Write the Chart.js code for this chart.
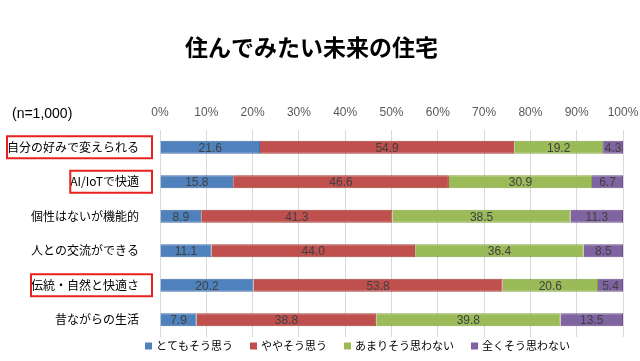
<!DOCTYPE html>
<html>
<head>
<meta charset="utf-8">
<script src="https://cdn.jsdelivr.net/npm/chart.js@4"></script>
<style>
  html, body { margin: 0; padding: 0; background: #fff; }
  #wrap { width: 640px; height: 361px; }
</style>
</head>
<body>
<div id="wrap"><canvas id="chart"></canvas></div>
<script>
const categories = ["自分の好みで変えられる", "AI/IoTで快適", "個性はないが機能的", "人との交流ができる", "伝統・自然と快適さ", "昔ながらの生活"];
const seriesNames = ["とてもそう思う", "ややそう思う", "あまりそう思わない", "全くそう思わない"];
const veryMuch = [21.6, 15.8, 8.9, 11.1, 20.2, 7.9];
const somewhat = [54.9, 46.6, 41.3, 44.0, 53.8, 38.8];
const notMuch = [19.2, 30.9, 38.5, 36.4, 20.6, 39.8];
const notAtAll = [4.3, 6.7, 11.3, 8.5, 5.4, 13.5];
const highlighted = [0, 1, 4];

const colors = ["#4F81BD", "#C0504D", "#9BBB59", "#8064A2"];
const borders = ["#3F6EA6", "#A63F3C", "#86A446", "#6A5089"];
const jp = '"Noto Sans CJK JP", sans-serif';
const num = '"Liberation Sans", sans-serif';

const valueLabels = {
    id: "valueLabels",
    afterDatasetsDraw(chart) {
        const c = chart.ctx;
        c.save();
        c.font = "12px " + num;
        c.fillStyle = "#404040";
        c.textAlign = "center";
        c.textBaseline = "middle";
        chart.data.datasets.forEach((ds, i) => {
            chart.getDatasetMeta(i).data.forEach((bar, j) => {
                const x = (bar.x + bar.base) / 2;
                c.fillText(ds.data[j].toFixed(1), x, bar.y + 1);
            });
        });
        c.restore();
    }
};

const extras = {
    id: "extras",
    afterDraw(chart) {
        const c = chart.ctx;
        const yScale = chart.scales.y;
        c.save();
        // n label
        c.font = "14px " + num;
        c.fillStyle = "#000";
        c.textBaseline = "middle";
        c.textAlign = "left";
        c.fillText("(n=1,000)", 12, 114);
        // red boxes around highlighted labels
        c.font = "12px " + jp;
        c.strokeStyle = "#E8201E";
        c.lineWidth = 2;
        highlighted.forEach(i => {
            const y = yScale.getPixelForTick(i);
            const w = c.measureText(categories[i]).width;
            c.strokeRect(147 - w - 8, y - 11, w + 13, 22);
        });
        // legend
        c.font = "11px " + jp;
        c.textAlign = "left";
        let x = 145;
        const ly = 346;
        seriesNames.forEach((name, i) => {
            c.fillStyle = colors[i];
            c.fillRect(x, ly - 3.5, 7, 7);
            c.fillStyle = "#000";
            c.fillText(name, x + 11, ly);
            x += 11 + c.measureText(name).width + 17;
        });
        c.restore();
    }
};

const datasetValues = [veryMuch, somewhat, notMuch, notAtAll];

const config = {
    type: "bar",
    data: {
        labels: categories,
        datasets: seriesNames.map((name, i) => ({
            label: name,
            data: datasetValues[i],
            backgroundColor: colors[i],
            borderColor: borders[i],
            borderWidth: 1,
            categoryPercentage: 1,
            barPercentage: 0.38
        }))
    },
    options: {
        indexAxis: "y",
        responsive: true,
        maintainAspectRatio: false,
        animation: false,
        layout: { padding: { left: 0, right: 17, top: 0, bottom: 24 } },
        plugins: {
            legend: { display: false },
            tooltip: { enabled: false },
            title: {
                display: true,
                text: "住んでみたい未来の住宅",
                color: "#000",
                font: { family: jp, size: 23, weight: "bold" },
                padding: { top: 33, bottom: 0 }
            }
        },
        scales: {
            x: {
                position: "top",
                stacked: true,
                min: 0,
                max: 100,
                border: { display: false },
                grid: { color: "#D9D9D9", drawTicks: false },
                ticks: {
                    stepSize: 10,
                    padding: 10,
                    color: "#595959",
                    font: { family: num, size: 12 },
                    callback: v => v + "%"
                },
                afterFit(scale) {
                    scale.height = 130 - 60.6;
                    scale.paddingLeft = 0;
                    scale.paddingRight = 0;
                }
            },
            y: {
                stacked: true,
                border: { display: false },
                grid: { display: false },
                ticks: {
                    padding: 13,
                    color: "#000",
                    font: { family: jp, size: 12 }
                },
                afterFit(scale) { scale.width = 160; }
            }
        }
    },
    plugins: [valueLabels, extras]
};

const chartBar = new Chart(document.getElementById("chart"), config);
</script>
</body>
</html>
